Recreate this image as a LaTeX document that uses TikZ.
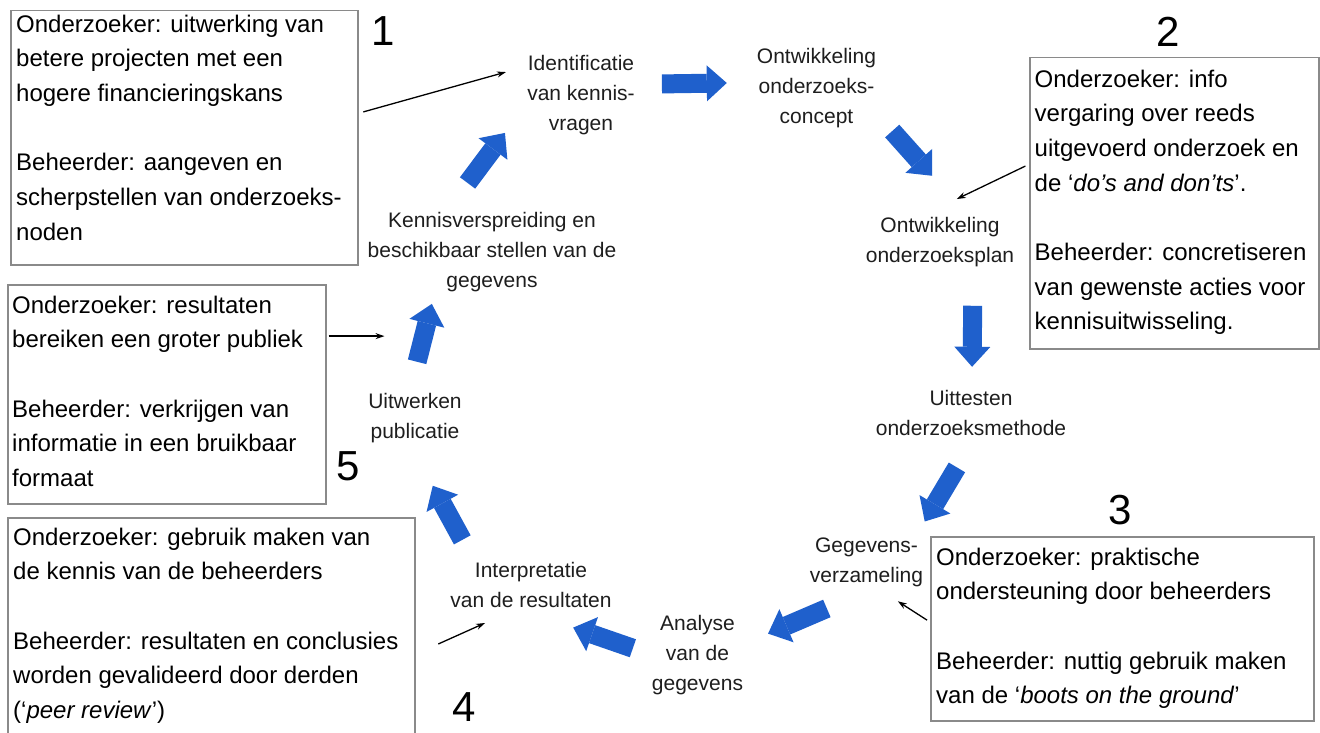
\documentclass[tikz,border=0pt]{standalone}
\usepackage{fontspec}
\setmainfont{Liberation Sans}
\usepackage{xcolor}
\usepackage{tikz}
\usetikzlibrary{arrows.meta}
\definecolor{flowblue}{HTML}{1F60CC}
\definecolor{boxgray}{HTML}{8A8A8A}
\definecolor{stagetext}{HTML}{1E1E1E}

\begin{document}
\begin{tikzpicture}[x=1pt,y=-1pt,
  infobox/.style={draw=boxgray, line width=1.5pt, anchor=north west, inner sep=0pt},
  infotext/.style={anchor=north west, inner sep=0pt, align=left, font=\fontsize{24}{34.7}\selectfont},
  stage/.style={anchor=north, inner sep=0pt, align=center, text=stagetext, font=\fontsize{21}{30}\selectfont},
  num/.style={inner sep=0pt, font=\fontsize{42}{42}\selectfont},
  flow/.style={draw=flowblue, line width=19pt, -{Triangle[width=36pt,length=20pt,line width=0pt]}},
  pointer/.style={draw, line width=1.3pt, -{Stealth[length=9pt,width=6pt]}}]
\useasboundingbox[fill=white] (0,0) rectangle (1320,733);

\node[infobox, minimum width=347pt, minimum height=254pt] (b1) at (10,10) {};
\node[infobox, minimum width=289pt, minimum height=291pt] (b2) at (1029,57) {};
\node[infobox, minimum width=383pt, minimum height=184pt] (b3) at (930,536) {};
\node[infobox, minimum width=407pt, minimum height=230pt] (b4) at (7,517) {};
\node[infobox, minimum width=318pt, minimum height=219pt] (b5) at (7,284) {};

\node[infotext] (t1) at (16,14.5) {Onderzoeker: uitwerking van\\betere projecten met een\\hogere financieringskans\\[34.7pt]Beheerder: aangeven en\\scherpstellen van onderzoeks-\\noden};
\node[infotext] (t2) at (1034.5,69.5) {Onderzoeker: info\\vergaring over reeds\\uitgevoerd onderzoek en\\de ‘\textit{do’s and don’ts}’.\\[34.7pt]Beheerder: concretiseren\\van gewenste acties voor\\kennisuitwisseling.};
\node[infotext] (t3) at (936,547.5) {Onderzoeker: praktische\\ondersteuning door beheerders\\[34.7pt]Beheerder: nuttig gebruik maken\\van de ‘\textit{boots on the ground}’};
\node[infotext] (t4) at (13,527.5) {Onderzoeker: gebruik maken van\\de kennis van de beheerders\\[34.7pt]Beheerder: resultaten en conclusies\\worden gevalideerd door derden\\(‘\textit{peer review}’)};
\node[infotext] (t5) at (12,295.5) {Onderzoeker: resultaten\\bereiken een groter publiek\\[34.7pt]Beheerder: verkrijgen van\\informatie in een bruikbaar\\formaat};

\node[num] (n1) at (383,31) {1};
\node[num] (n2) at (1168,32) {2};
\node[num] (n3) at (1120,510) {3};
\node[num] (n4) at (464,707) {4};
\node[num] (n5) at (348,466) {5};

\node[stage] (s1) at (581,54.8) {Identificatie\\van kennis-\\vragen};
\node[stage] (s2) at (816.5,47.8) {Ontwikkeling\\onderzoeks-\\concept};
\node[stage] (s3) at (940,216.8) {Ontwikkeling\\onderzoeksplan};
\node[stage] (s4) at (971,389.8) {Uittesten\\onderzoeksmethode};
\node[stage] (s5) at (866.5,537.8) {Gegevens-\\verzameling};
\node[stage] (s6) at (697.5,614.8) {Analyse\\van de\\gegevens};
\node[stage] (s7) at (531,561.8) {Interpretatie\\van de resultaten};
\node[stage] (s8) at (415,392.8) {Uitwerken\\publicatie};
\node[stage] (s9) at (492,211.8) {Kennisverspreiding en\\beschikbaar stellen van de\\gegevens};

\draw[flow, shorten <=27pt, shorten >=30pt] (s1.11) -- (s2.175);
\draw[flow, shorten <=24pt, shorten >=55pt] (s2.-23) -- (s3.41);
\draw[flow, shorten <=39pt, shorten >=23pt] (s3.-37) -- (s4.88);
\draw[flow, shorten <=37pt, shorten >=19pt] (s4.-78) -- (s5.27);
\draw[flow, shorten <=54pt, shorten >=27pt] (s5.-68) -- (s6.13);
\draw[flow, shorten <=20pt, shorten >=61pt] (s6.west) -- (s7.-124);
\draw[flow, shorten <=25pt, shorten >=49pt] (s7.158) -- (s8.-103);
\draw[flow, shorten <=32pt, shorten >=12.5pt] (s8.103) -- (s9.-145);
\draw[flow, shorten <=36pt, shorten >=37pt] (s9.139) -- (s1.-171);

\draw[pointer, shorten <=5pt, shorten >=22pt] (b1.8) -- (s1.152);
\draw[pointer, shorten <=4pt, shorten >=41pt] (b2.165) -- (s3.129);
\draw[pointer, shorten <=3.5pt, shorten >=26pt] (b3.178) -- (s5.-69);
\draw[pointer, shorten <=25pt, shorten >=37.6pt] (b4.-6) -- (s7.-117);
\draw[pointer, shorten <=2pt] (b5.20) -- ++(58,0);
\end{tikzpicture}
\end{document}
